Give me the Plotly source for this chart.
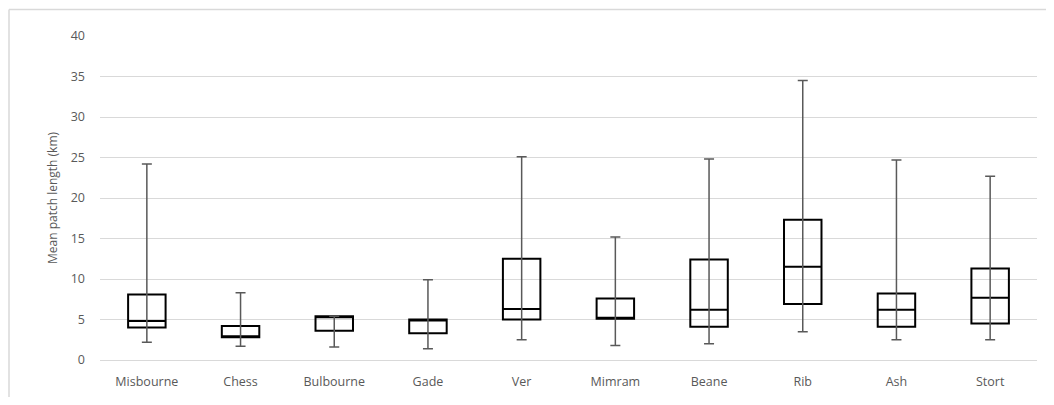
import plotly.graph_objects as go

rivers = ["Misbourne", "Chess", "Bulbourne", "Gade", "Ver", "Mimram", "Beane", "Rib", "Ash", "Stort"]
minimum = [2.2, 1.7, 1.6, 1.4, 2.5, 1.8, 2.0, 3.5, 2.5, 2.5]
q1 = [4.0, 2.8, 3.6, 3.3, 5.0, 5.1, 4.1, 6.9, 4.1, 4.5]
median = [4.8, 2.8, 5.3, 4.9, 6.3, 5.1, 6.2, 11.5, 6.2, 7.7]
q3 = [8.1, 4.2, 5.4, 5.0, 12.5, 7.6, 12.4, 17.3, 8.2, 11.3]
maximum = [24.2, 8.3, 5.4, 9.9, 25.1, 15.2, 24.8, 34.5, 24.7, 22.7]

y_ticks = [0, 5, 10, 15, 20, 25, 30, 35, 40]

# page body has an 8px default margin; figure sized to fit inside window
W, H = 1038, 389
L, R, T, B = 92, 9, 27.5, 37
PW, PH = W - L - R, H - T - B

fig = go.Figure()

fig.add_trace(go.Box(
    x=rivers,
    q1=q1, median=median, q3=q3,
    lowerfence=q1, upperfence=q3,
    fillcolor="rgba(255,255,255,0)",
    line=dict(color="black", width=2),
    width=0.4,
    boxpoints=False,
    hoverinfo="skip",
    showlegend=False,
))

fig.add_trace(go.Scatter(
    x=rivers,
    y=minimum,
    mode="markers",
    marker=dict(size=1, color="rgba(0,0,0,0)"),
    error_y=dict(
        type="data",
        symmetric=False,
        array=[mx - mn for mx, mn in zip(maximum, minimum)],
        arrayminus=[0] * len(minimum),
        color="#595959",
        thickness=1.5,
        width=5,
    ),
    showlegend=False,
    hoverinfo="skip",
))

fig.update_layout(
    width=W, height=H,
    margin=dict(l=L, r=R, t=T, b=B, autoexpand=False),
    paper_bgcolor="white",
    plot_bgcolor="white",
    font=dict(family="Open Sans", size=12, color="#595959"),
    xaxis=dict(
        type="category",
        categoryorder="array",
        categoryarray=rivers,
        range=[-0.5, 9.5],
        showgrid=False,
        showline=False,
        zeroline=False,
        ticks="",
        tickfont=dict(size=12.5, color="#595959"),
        ticklabelstandoff=12,
    ),
    yaxis=dict(
        range=[0, 40],
        tickvals=y_ticks,
        showgrid=True,
        gridcolor="#d9d9d9",
        gridwidth=1,
        zeroline=True,
        zerolinecolor="#d9d9d9",
        zerolinewidth=1,
        showline=False,
        ticks="",
        tickfont=dict(size=12.5, color="#595959"),
        ticklabelstandoff=14,
        title=dict(text="Mean patch length (km)", font=dict(size=12, color="#595959"), standoff=10),
    ),
    shapes=[
        dict(type="line", xref="paper", yref="paper",
             x0=(1 - L) / PW, x1=(W - L) / PW,
             y0=1 + (T - 1) / PH, y1=1 + (T - 1) / PH,
             line=dict(color="#d9d9d9", width=1.5)),
        dict(type="line", xref="paper", yref="paper",
             x0=(1 - L) / PW, x1=(1 - L) / PW,
             y0=-B / PH, y1=1 + (T - 1) / PH,
             line=dict(color="#d9d9d9", width=1.5)),
    ],
)

fig.write_html("out.html")
